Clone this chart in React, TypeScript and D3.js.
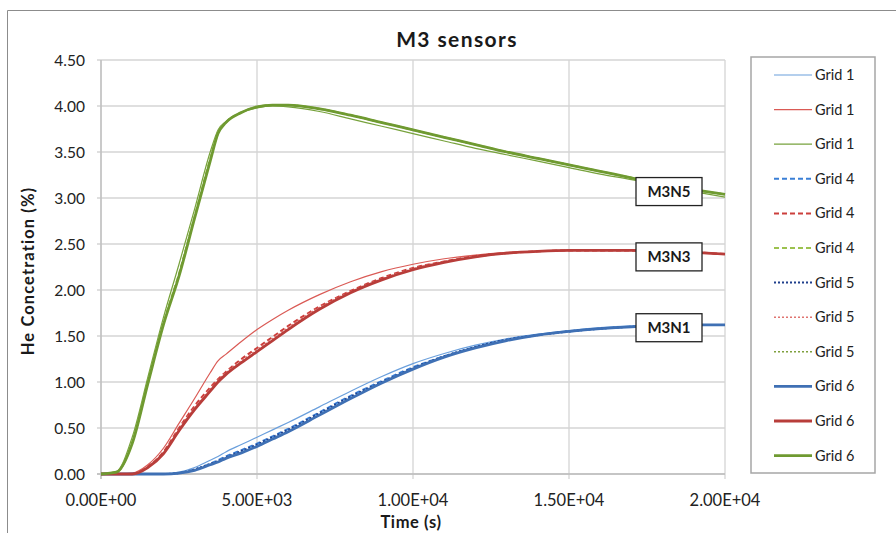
import React from "react";
import * as d3 from "d3";

const times = [0, 500, 1000, 1500, 2000, 2500, 3000, 3500, 3750, 4000, 4500, 5000, 5500, 6000, 7000, 8000, 9000, 10000, 11000, 12000, 13000, 14000, 15000, 16000, 17000, 18000, 19000, 20000];

// M3N1 (blue)
const n1Grid1 = [0, 0, 0, 0, 0, 0.02, 0.07, 0.15, 0.19, 0.24, 0.32, 0.40, 0.48, 0.56, 0.73, 0.90, 1.06, 1.20, 1.31, 1.40, 1.47, 1.52, 1.56, 1.59, 1.61, 1.62, 1.62, 1.62];
const n1Grid4 = [0, 0, 0, 0, 0, 0.01, 0.05, 0.11, 0.15, 0.19, 0.26, 0.33, 0.41, 0.49, 0.67, 0.85, 1.01, 1.16, 1.28, 1.38, 1.46, 1.51, 1.55, 1.58, 1.60, 1.61, 1.62, 1.62];
const n1Grid5 = [0, 0, 0, 0, 0, 0.01, 0.05, 0.11, 0.14, 0.18, 0.25, 0.32, 0.40, 0.48, 0.66, 0.84, 1.00, 1.15, 1.28, 1.38, 1.46, 1.51, 1.55, 1.58, 1.60, 1.61, 1.62, 1.62];
const n1Grid6 = [0, 0, 0, 0, 0, 0.01, 0.04, 0.10, 0.13, 0.17, 0.23, 0.30, 0.38, 0.46, 0.64, 0.82, 0.99, 1.14, 1.27, 1.37, 1.45, 1.51, 1.55, 1.58, 1.60, 1.61, 1.62, 1.62];

// M3N3 (red)
const n3Grid1 = [0, 0, 0.01, 0.10, 0.28, 0.55, 0.82, 1.10, 1.23, 1.30, 1.44, 1.57, 1.68, 1.78, 1.95, 2.09, 2.20, 2.28, 2.34, 2.38, 2.41, 2.42, 2.43, 2.43, 2.43, 2.42, 2.41, 2.39];
const n3Grid4 = [0, 0, 0, 0.08, 0.24, 0.50, 0.74, 0.94, 1.03, 1.11, 1.25, 1.37, 1.49, 1.61, 1.82, 1.99, 2.13, 2.24, 2.31, 2.37, 2.40, 2.42, 2.43, 2.43, 2.43, 2.42, 2.41, 2.39];
const n3Grid5 = [0, 0, 0, 0.08, 0.23, 0.49, 0.72, 0.92, 1.02, 1.10, 1.23, 1.35, 1.47, 1.59, 1.81, 1.98, 2.12, 2.23, 2.31, 2.36, 2.40, 2.42, 2.43, 2.43, 2.43, 2.42, 2.41, 2.39];
const n3Grid6 = [0, 0, 0, 0.07, 0.22, 0.47, 0.70, 0.90, 1.00, 1.08, 1.21, 1.33, 1.45, 1.57, 1.79, 1.97, 2.11, 2.22, 2.30, 2.36, 2.40, 2.42, 2.43, 2.43, 2.43, 2.42, 2.41, 2.39];

// M3N5 (green)
const n5Grid1 = [0, 0.03, 0.40, 1.05, 1.70, 2.28, 2.88, 3.50, 3.74, 3.83, 3.93, 3.98, 4.00, 3.99, 3.94, 3.86, 3.78, 3.70, 3.62, 3.54, 3.47, 3.40, 3.33, 3.26, 3.20, 3.13, 3.07, 3.01];
const n5Grid4 = [0, 0.02, 0.35, 1.00, 1.64, 2.18, 2.80, 3.43, 3.71, 3.82, 3.93, 3.99, 4.01, 4.01, 3.97, 3.90, 3.82, 3.74, 3.66, 3.58, 3.50, 3.43, 3.36, 3.29, 3.22, 3.15, 3.09, 3.04];
const n5Grid5 = [0, 0.02, 0.34, 0.99, 1.63, 2.17, 2.79, 3.41, 3.70, 3.82, 3.93, 3.99, 4.01, 4.01, 3.97, 3.90, 3.82, 3.74, 3.66, 3.58, 3.50, 3.43, 3.36, 3.29, 3.22, 3.15, 3.09, 3.04];
const n5Grid6 = [0, 0.02, 0.33, 0.98, 1.62, 2.15, 2.78, 3.40, 3.70, 3.82, 3.93, 3.99, 4.01, 4.01, 3.97, 3.90, 3.82, 3.74, 3.66, 3.58, 3.50, 3.43, 3.36, 3.29, 3.22, 3.15, 3.09, 3.04];

const legendLabels = ["Grid 1", "Grid 1", "Grid 1", "Grid 4", "Grid 4", "Grid 4", "Grid 5", "Grid 5", "Grid 5", "Grid 6", "Grid 6", "Grid 6"];
const xTicks = [0, 5000, 10000, 15000, 20000];
const xTickLabels = ["0.00E+00", "5.00E+03", "1.00E+04", "1.50E+04", "2.00E+04"];
const yTicks = [0, 0.5, 1, 1.5, 2, 2.5, 3, 3.5, 4, 4.5];
const sensorLabels = ["M3N5", "M3N3", "M3N1"];
const sensorLabelY = [3.07, 2.36, 1.59];

type Style = { color: string; width: number; dash?: string };
const styles: Style[] = [
  { color: "#6a9fdc", width: 1.2 },
  { color: "#da5a55", width: 1.2 },
  { color: "#77a23c", width: 1.2 },
  { color: "#3a7fd6", width: 2, dash: "5,3" },
  { color: "#cc3f3c", width: 2, dash: "5,3" },
  { color: "#9cc24f", width: 2, dash: "5,3" },
  { color: "#1f3f8c", width: 2, dash: "2,2" },
  { color: "#e07470", width: 1.6, dash: "2,2" },
  { color: "#7fa03e", width: 1.6, dash: "2,2" },
  { color: "#3f70b4", width: 2.8 },
  { color: "#b83d3a", width: 2.8 },
  { color: "#6f9a31", width: 2.8 },
];
const seriesData = [n1Grid1, n3Grid1, n5Grid1, n1Grid4, n3Grid4, n5Grid4, n1Grid5, n3Grid5, n5Grid5, n1Grid6, n3Grid6, n5Grid6];

export default function App() {
  const W = 896, H = 533;
  const x = d3.scaleLinear().domain([0, 20000]).range([101, 725]);
  const y = d3.scaleLinear().domain([0, 4.5]).range([474, 60]);
  const line = d3.line<number>().x((_, i) => x(times[i])).y((d) => y(d)).curve(d3.curveMonotoneX);
  const font = "Lato, 'Open Sans', sans-serif";
  const legX = 751, legY = 57, legW = 124, legH = 416;
  const legStep = 34.6;
  return (
    <svg width={W} height={H} style={{ position: "absolute", left: 0, top: 0 }} fontFamily={font}>
      <rect x={0} y={0} width={W} height={H} fill="#fff" />
      <path d={`M7.5,${H} V10.5 H${W}`} fill="none" stroke="#8c8c8c" strokeWidth={1} />
      <text x={457} y={47} textAnchor="middle" fontSize={21} fontWeight="bold" letterSpacing={1.4} fill="#1a1a1a">M3 sensors</text>
      {yTicks.map((t) => (
        <g key={"y" + t}>
          <line x1={97} x2={725} y1={y(t)} y2={y(t)} stroke="#d4d4d4" strokeWidth={1.3} />
          <text x={85} y={y(t) + 5.5} textAnchor="end" fontSize={15.5} fill="#222">{t.toFixed(2)}</text>
        </g>
      ))}
      {xTicks.map((t, i) => (
        <g key={"x" + t}>
          <line x1={x(t)} x2={x(t)} y1={60} y2={479} stroke="#d4d4d4" strokeWidth={1.3} />
          <text x={x(t)} y={506} textAnchor="middle" fontSize={16.5} fill="#222">{xTickLabels[i]}</text>
        </g>
      ))}
      <line x1={101} x2={101} y1={60} y2={479} stroke="#bdbdbd" strokeWidth={1.3} />
      <line x1={97} x2={725} y1={474} y2={474} stroke="#bdbdbd" strokeWidth={1.3} />
      <text x={411} y={528} textAnchor="middle" fontSize={16.5} fontWeight="bold" letterSpacing={0.6} fill="#1a1a1a">Time (s)</text>
      <text transform={`translate(34,271) rotate(-90)`} textAnchor="middle" fontSize={16.5} fontWeight="bold" letterSpacing={1.1} fill="#1a1a1a">He Concetration (%)</text>
      {seriesData.map((s, i) => (
        <path key={"s" + i} d={line(s) || ""} fill="none" stroke={styles[i].color} strokeWidth={styles[i].width} strokeDasharray={styles[i].dash} />
      ))}
      {sensorLabels.map((lab, i) => (
        <g key={lab}>
          <rect x={636} y={y(sensorLabelY[i]) - 14} width={66} height={28} fill="#fff" stroke="#222" strokeWidth={1.3} />
          <text x={669} y={y(sensorLabelY[i]) + 5.5} textAnchor="middle" fontSize={15} fontWeight="bold" fill="#1a1a1a">{lab}</text>
        </g>
      ))}
      <rect x={legX} y={legY} width={legW} height={legH} fill="#fff" stroke="#a6a6a6" strokeWidth={1.5} />
      {legendLabels.map((lab, i) => {
        const ly = 75 + i * legStep;
        return (
          <g key={"l" + i}>
            <line x1={774} x2={812} y1={ly} y2={ly} stroke={styles[i].color} strokeWidth={styles[i].width} strokeDasharray={styles[i].dash} />
            <text x={815} y={ly + 5} fontSize={14.5} fill="#222">{lab}</text>
          </g>
        );
      })}
    </svg>
  );
}
